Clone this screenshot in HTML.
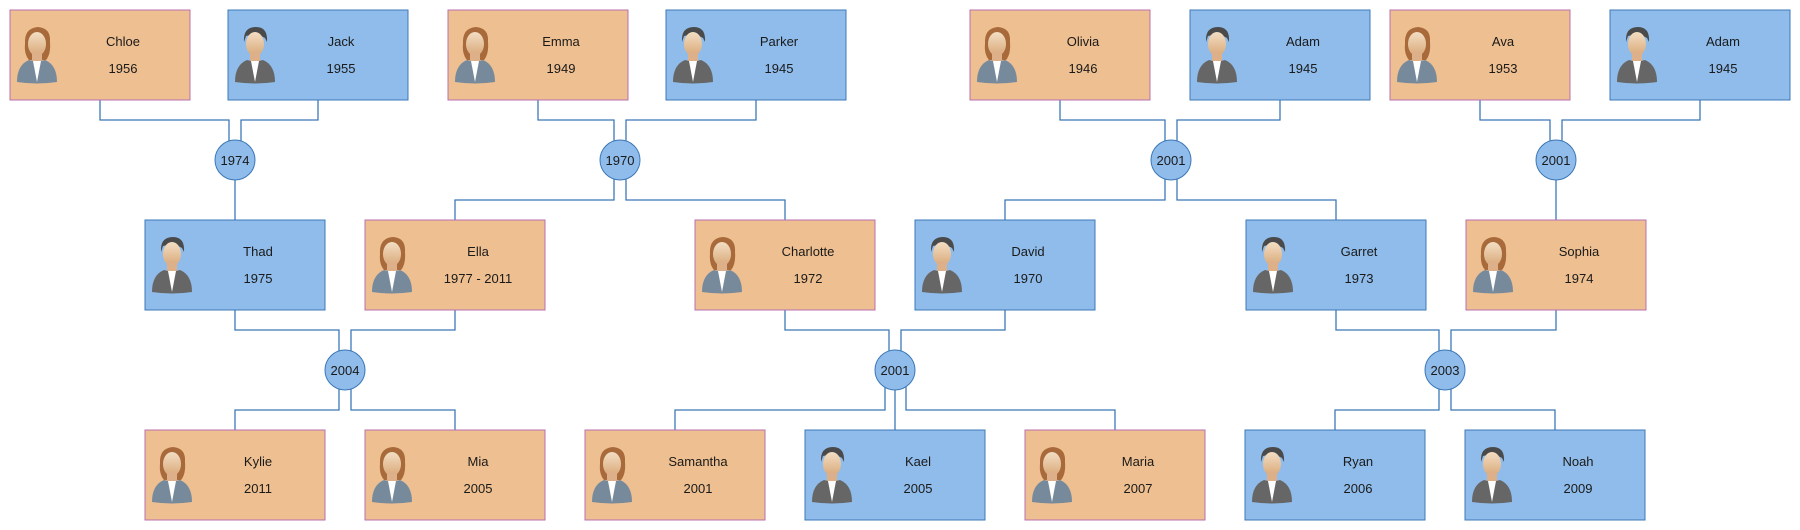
<!DOCTYPE html>
<html><head><meta charset="utf-8"><style>
html,body{margin:0;padding:0;background:#fff;}
svg{display:block;}
text{font-family:"Liberation Sans",sans-serif;font-size:13px;fill:#1a1a1a;text-anchor:middle;}
.f{fill:#EEBF90;stroke:#B86FB0;stroke-width:1;}
.m{fill:#8FBCEA;stroke:#3C78B8;stroke-width:1;}
.c{fill:#8FBCEA;stroke:#3C78B8;stroke-width:1;}
.l{fill:none;stroke:#3C78B8;stroke-width:1.3;}
</style></head><body>
<svg width="1800" height="530" viewBox="0 0 1800 530" xmlns="http://www.w3.org/2000/svg">
<defs>
<linearGradient id="sk" x1="0" y1="0" x2="0" y2="1"><stop offset="0" stop-color="#F3DEC4"/><stop offset="1" stop-color="#D9A878"/></linearGradient>
<symbol id="fem" viewBox="0 0 40 60">
<path d="M8 20 Q7 4 21 3 Q34 4 33 18 Q34 30 29 36 L12 36 Q7 30 8 20Z" fill="#A86A3A"/>
<ellipse cx="20" cy="20" rx="9" ry="12" fill="url(#sk)"/>
<rect x="15" y="28" width="10" height="10" fill="#DDB089"/>
<path d="M0 58 Q0 41 12 36 L20 38 L28 36 Q40 41 40 58 Q20 61 0 58Z" fill="#778A9C"/>
<path d="M16 37 L20 58 L24 37 Z" fill="#fff"/>
</symbol>
<symbol id="mal" viewBox="0 0 40 60">
<path d="M9 18 Q8 3 21 3 Q33 3 32 18 L30 14 Q22 9 11 12Z" fill="#4a4a4a"/>
<ellipse cx="20" cy="20" rx="9" ry="12" fill="url(#sk)"/>
<rect x="15" y="28" width="10" height="10" fill="#DDB089"/>
<path d="M0 58 Q0 41 12 36 L20 38 L28 36 Q40 41 40 58 Q20 61 0 58Z" fill="#666"/>
<path d="M16 37 L20 58 L24 37 Z" fill="#fff"/>
</symbol>
</defs>

<g class="l">
<path d="M100 100V120H229V142M318 100V120H241V142M235 180V220"/>
<path d="M538 100V120H614V142M756 100V120H626V142M614 178V200H455V220M626 178V200H785V220"/>
<path d="M1060 100V120H1165V142M1280 100V120H1177V142M1165 178V200H1005V220M1177 178V200H1336V220"/>
<path d="M1480 100V120H1550V142M1700 100V120H1562V142M1556 180V220"/>
<path d="M235 310V330H339V352M455 310V330H351V352M339 388V410H235V430M351 388V410H455V430"/>
<path d="M785 310V330H889V352M1005 310V330H901V352M885 387V410H675V430M906 387V410H1115V430M895 390V430"/>
<path d="M1336 310V330H1439V352M1556 310V330H1451V352M1439 388V410H1335V430M1451 388V410H1555V430"/>
</g>

<g>
<circle class="c" cx="235" cy="160" r="20"/><text x="235" y="165">1974</text>
<circle class="c" cx="620" cy="160" r="20"/><text x="620" y="165">1970</text>
<circle class="c" cx="1171" cy="160" r="20"/><text x="1171" y="165">2001</text>
<circle class="c" cx="1556" cy="160" r="20"/><text x="1556" y="165">2001</text>
<circle class="c" cx="345" cy="370" r="20"/><text x="345" y="375">2004</text>
<circle class="c" cx="895" cy="370" r="20"/><text x="895" y="375">2001</text>
<circle class="c" cx="1445" cy="370" r="20"/><text x="1445" y="375">2003</text>
</g>

<g transform="translate(10,10)"><rect class="f" width="180" height="90"/><use href="#fem" x="6" y="14" width="42" height="60"/><text x="113" y="36">Chloe</text><text x="113" y="63">1956</text></g>
<g transform="translate(228,10)"><rect class="m" width="180" height="90"/><use href="#mal" x="6" y="14" width="42" height="60"/><text x="113" y="36">Jack</text><text x="113" y="63">1955</text></g>
<g transform="translate(448,10)"><rect class="f" width="180" height="90"/><use href="#fem" x="6" y="14" width="42" height="60"/><text x="113" y="36">Emma</text><text x="113" y="63">1949</text></g>
<g transform="translate(666,10)"><rect class="m" width="180" height="90"/><use href="#mal" x="6" y="14" width="42" height="60"/><text x="113" y="36">Parker</text><text x="113" y="63">1945</text></g>
<g transform="translate(970,10)"><rect class="f" width="180" height="90"/><use href="#fem" x="6" y="14" width="42" height="60"/><text x="113" y="36">Olivia</text><text x="113" y="63">1946</text></g>
<g transform="translate(1190,10)"><rect class="m" width="180" height="90"/><use href="#mal" x="6" y="14" width="42" height="60"/><text x="113" y="36">Adam</text><text x="113" y="63">1945</text></g>
<g transform="translate(1390,10)"><rect class="f" width="180" height="90"/><use href="#fem" x="6" y="14" width="42" height="60"/><text x="113" y="36">Ava</text><text x="113" y="63">1953</text></g>
<g transform="translate(1610,10)"><rect class="m" width="180" height="90"/><use href="#mal" x="6" y="14" width="42" height="60"/><text x="113" y="36">Adam</text><text x="113" y="63">1945</text></g>

<g transform="translate(145,220)"><rect class="m" width="180" height="90"/><use href="#mal" x="6" y="14" width="42" height="60"/><text x="113" y="36">Thad</text><text x="113" y="63">1975</text></g>
<g transform="translate(365,220)"><rect class="f" width="180" height="90"/><use href="#fem" x="6" y="14" width="42" height="60"/><text x="113" y="36">Ella</text><text x="113" y="63">1977 - 2011</text></g>
<g transform="translate(695,220)"><rect class="f" width="180" height="90"/><use href="#fem" x="6" y="14" width="42" height="60"/><text x="113" y="36">Charlotte</text><text x="113" y="63">1972</text></g>
<g transform="translate(915,220)"><rect class="m" width="180" height="90"/><use href="#mal" x="6" y="14" width="42" height="60"/><text x="113" y="36">David</text><text x="113" y="63">1970</text></g>
<g transform="translate(1246,220)"><rect class="m" width="180" height="90"/><use href="#mal" x="6" y="14" width="42" height="60"/><text x="113" y="36">Garret</text><text x="113" y="63">1973</text></g>
<g transform="translate(1466,220)"><rect class="f" width="180" height="90"/><use href="#fem" x="6" y="14" width="42" height="60"/><text x="113" y="36">Sophia</text><text x="113" y="63">1974</text></g>

<g transform="translate(145,430)"><rect class="f" width="180" height="90"/><use href="#fem" x="6" y="14" width="42" height="60"/><text x="113" y="36">Kylie</text><text x="113" y="63">2011</text></g>
<g transform="translate(365,430)"><rect class="f" width="180" height="90"/><use href="#fem" x="6" y="14" width="42" height="60"/><text x="113" y="36">Mia</text><text x="113" y="63">2005</text></g>
<g transform="translate(585,430)"><rect class="f" width="180" height="90"/><use href="#fem" x="6" y="14" width="42" height="60"/><text x="113" y="36">Samantha</text><text x="113" y="63">2001</text></g>
<g transform="translate(805,430)"><rect class="m" width="180" height="90"/><use href="#mal" x="6" y="14" width="42" height="60"/><text x="113" y="36">Kael</text><text x="113" y="63">2005</text></g>
<g transform="translate(1025,430)"><rect class="f" width="180" height="90"/><use href="#fem" x="6" y="14" width="42" height="60"/><text x="113" y="36">Maria</text><text x="113" y="63">2007</text></g>
<g transform="translate(1245,430)"><rect class="m" width="180" height="90"/><use href="#mal" x="6" y="14" width="42" height="60"/><text x="113" y="36">Ryan</text><text x="113" y="63">2006</text></g>
<g transform="translate(1465,430)"><rect class="m" width="180" height="90"/><use href="#mal" x="6" y="14" width="42" height="60"/><text x="113" y="36">Noah</text><text x="113" y="63">2009</text></g>
</svg>
</body></html>
